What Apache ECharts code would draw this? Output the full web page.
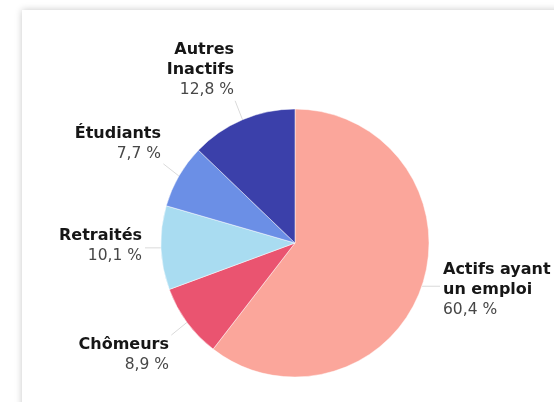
<!DOCTYPE html>
<html>
<head>
<meta charset="utf-8">
<script src="https://cdn.jsdelivr.net/npm/echarts@6/dist/echarts.min.js"></script>
<style>
  html, body { margin: 0; padding: 0; background: #fff; width: 554px; height: 402px; overflow: hidden; }
  #panel { position: absolute; left: 22px; top: 10px; width: 620px; height: 520px; background: #fff;
           box-shadow: 0 0 7px rgba(0, 0, 0, 0.22); }
  #chart { position: absolute; left: 0; top: 0; width: 554px; height: 402px; }
</style>
</head>
<body>
<div id="panel"></div>
<div id="chart"></div>
<script>
// Population by activity status (share of total, %)
const categories = ['Actifs ayant\nun emploi', 'Chômeurs', 'Retraités', 'Étudiants', 'Autres\nInactifs'];
const shares = [60.4, 8.9, 10.1, 7.7, 12.8];
const sliceColors = ['#fba69b', '#ea5470', '#a9dcf1', '#6b8fe6', '#3b40aa'];

// Where each label block sits: [anchor x, block middle y, text alignment]
const labelSpots = [
  [443, 290, 'left'],
  [169, 355, 'right'],
  [142, 246, 'right'],
  [161, 144, 'right'],
  [234, 70, 'right']
];

const frNumber = v => v.toFixed(1).replace('.', ',');

const chart = echarts.init(document.getElementById('chart'), null, { renderer: 'canvas' });

chart.setOption({
  backgroundColor: 'transparent',
  animation: false,
  series: [{
    type: 'pie',
    center: [295, 243],
    radius: 134,
    startAngle: 90,
    clockwise: true,
    avoidLabelOverlap: false,
    silent: true,
    itemStyle: { borderColor: 'rgba(255,255,255,0.6)', borderWidth: 0.8 },
    label: {
      show: true,
      position: 'outside',
      formatter: p => '{n|' + p.name + '}\n{v|' + frNumber(p.value) + ' %}',
      rich: {
        n: { fontFamily: 'DejaVu Sans', fontWeight: 'bold', fontSize: 16, color: '#161616', lineHeight: 20 },
        v: { fontFamily: 'DejaVu Sans', fontSize: 15.5, color: '#474747', lineHeight: 20 }
      }
    },
    labelLine: {
      show: true,
      length: 10,
      length2: 6,
      lineStyle: { color: '#dadada', width: 1 }
    },
    labelLayout: function (params) {
      const spot = labelSpots[params.dataIndex];
      const w = params.labelRect.width;
      const h = params.labelRect.height;
      const left = spot[2] === 'left' ? spot[0] : spot[0] - w;
      const top = spot[1] - h / 2;
      const result = { x: spot[0], y: spot[1], align: spot[2], verticalAlign: 'middle' };
      const pts = params.labelLinePoints;
      if (pts && pts.length) {
        const p0 = pts[0];
        const ex = Math.min(Math.max(p0[0], left), left + w);
        const ey = Math.min(Math.max(p0[1], top), top + h);
        const dx = p0[0] - ex, dy = p0[1] - ey;
        const len = Math.sqrt(dx * dx + dy * dy) || 1;
        const gap = Math.min(3, len / 3);
        result.labelLinePoints = [[p0[0], p0[1]], [ex + dx / len * gap, ey + dy / len * gap]];
      }
      return result;
    },
    emphasis: { disabled: true },
    data: categories.map((name, i) => ({
      name: name,
      value: shares[i],
      itemStyle: { color: sliceColors[i] }
    }))
  }]
});
</script>
</body>
</html>
